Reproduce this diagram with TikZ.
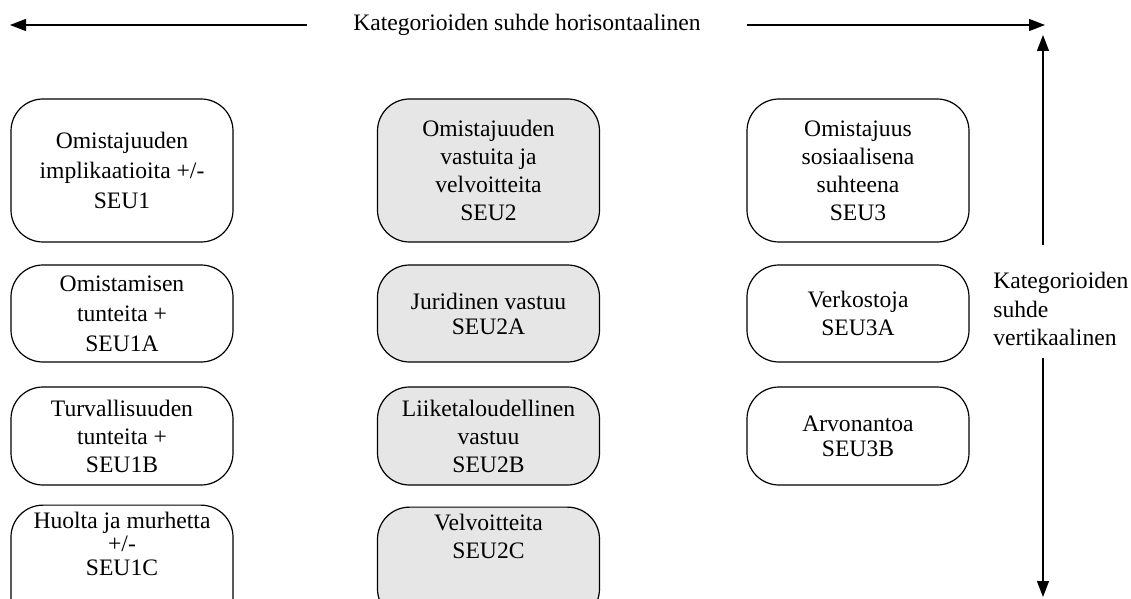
\documentclass[tikz,border=0pt]{standalone}
\usepackage{fontspec}
\setmainfont{Liberation Serif}
\usepackage{tikz}
\usetikzlibrary{arrows.meta}
\definecolor{boxgray}{RGB}{230,230,230}

\tikzset{
	catbox/.style={draw, line width=0.6pt, rounded corners=16pt, minimum width=111pt, align=center, font=\fontsize{11.8}{14}\selectfont},
	shadedbox/.style={catbox, fill=boxgray},
	linegap/.style={font=\fontsize{11.8}{#1}\selectfont},
	dimarrow/.style={line width=0.6pt, -{Triangle[length=8pt,width=6pt]}}
}

\begin{document}
\begin{tikzpicture}[x=0.5pt,y=-0.5pt]
			%%Location
			\useasboundingbox (0,0) rectangle (1131,599);
			\clip (0,0) rectangle (1131,599);
			
			%%Axis labels
			\node[inner xsep=23pt, font=\fontsize{11.8}{14}\selectfont] (hlabel) at (527,25) {Kategorioiden suhde horisontaalinen};
			\node[anchor=west, align=left, inner sep=0pt, font=\fontsize{11.8}{14.25}\selectfont] (vlabel) at (993,309) {Kategorioiden\\suhde\\vertikaalinen};
			\coordinate (hleft) at (10,25);
			\coordinate (hright) at (1045,25);
			\coordinate (vtop) at (1043,35);
			\coordinate (vbot) at (1043,597);
			\coordinate (vcut1) at (1043,245);
			\coordinate (vcut2) at (1043,358);
			
			%%Axis
			\draw[dimarrow] (hlabel.west) -- (hleft);
			\draw[dimarrow] (hlabel.east) -- (hright);
			\draw[dimarrow] (vcut1) -- (vtop);
			\draw[dimarrow] (vcut2) -- (vbot);
			
			%%Column 1
			\node[catbox, linegap=15pt, minimum height=71.5pt] (seu1) at (122,170.5) {Omistajuuden\\implikaatioita +/-\\SEU1};
			\node[catbox, linegap=15pt, minimum height=48.5pt] (seu1a) at (122,313.5) {Omistamisen\\tunteita +\\SEU1A};
			\node[catbox, minimum height=49pt] (seu1b) at (122,436) {Turvallisuuden\\tunteita +\\SEU1B};
			\node[catbox, linegap=11.75pt, minimum height=59pt] (seu1c) at (122,567) {Huolta ja murhetta\\+/-\\SEU1C\\\mbox{}\\\mbox{}};
			
			%%Column 2
			\node[shadedbox, minimum height=71.5pt] (seu2) at (488.5,170.5) {Omistajuuden\\vastuita ja\\velvoitteita\\SEU2};
			\node[shadedbox, linegap=12.5pt, minimum height=48.5pt] (seu2a) at (488.5,313.5) {Juridinen vastuu\\SEU2A};
			\node[shadedbox, minimum height=49pt] (seu2b) at (488.5,436) {Liiketaloudellinen\\vastuu\\SEU2B};
			\node[shadedbox, minimum height=56pt] (seu2c) at (488.5,564) {Velvoitteita\\SEU2C\\\mbox{}\\\mbox{}};
			
			%%Column 3
			\node[catbox, minimum height=71.5pt] (seu3) at (858,170.5) {Omistajuus\\sosiaalisena\\suhteena\\SEU3};
			\node[catbox, minimum height=48.5pt] (seu3a) at (858,313.5) {Verkostoja\\SEU3A};
			\node[catbox, linegap=12.5pt, minimum height=49pt] (seu3b) at (858,436) {Arvonantoa\\SEU3B};
			
		\end{tikzpicture}
\end{document}
